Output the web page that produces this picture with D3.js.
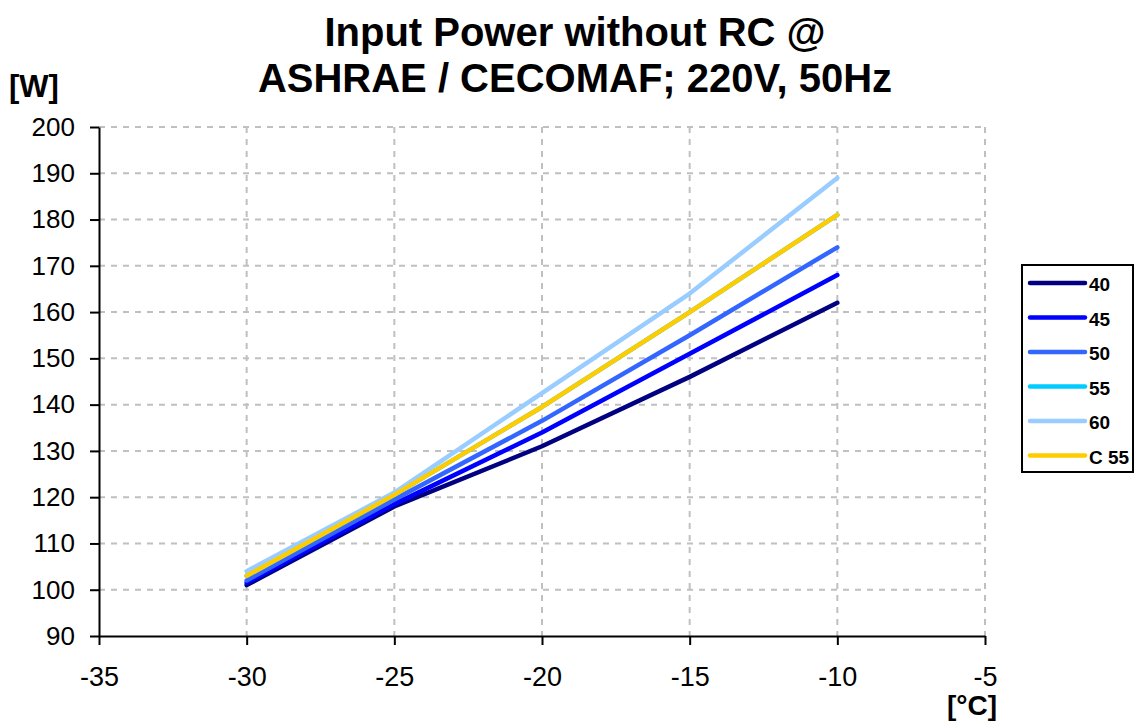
<!DOCTYPE html>
<html>
<head>
<meta charset="utf-8">
<script src="https://cdn.jsdelivr.net/npm/d3@7"></script>
<style>
  body { margin: 0; background: #fff; }
  text { font-family: Arial, "Liberation Sans", sans-serif; }
</style>
</head>
<body>
<div id="chart"></div>
<script>
var W = 1138, H = 724;
var margin = {top: 127, right: 153, bottom: 88, left: 99};
var width = W - margin.left - margin.right;
var height = H - margin.top - margin.bottom;

// evaporating temperature [°C]
var temps = [-30, -25, -20, -15, -10];
var seriesNames = ['40', '45', '50', '55', '60', 'C 55'];
var s40 = [101, 118, 131, 146, 162];
var s45 = [101.5, 118.5, 134, 151, 168];
var s50 = [102, 119.5, 136.5, 155, 174];
var s55 = [103, 120.5, 139.5, 160, 181];
var s60 = [104, 121, 142.5, 164, 189];
var sC55 = [103, 120.5, 139.5, 160, 181];
var colors = ['#000080', '#0000ff', '#3366ff', '#00ccff', '#99ccff', '#ffcc00'];
var xTicks = [-35, -30, -25, -20, -15, -10, -5];
var yTicks = [90, 100, 110, 120, 130, 140, 150, 160, 170, 180, 190, 200];

var allSeries = [s40, s45, s50, s55, s60, sC55];

var svg = d3.select('#chart').append('svg')
  .attr('width', W)
  .attr('height', H);

var g = svg.append('g')
  .attr('transform', 'translate(' + margin.left + ',' + margin.top + ')');

var x = d3.scaleLinear().domain([-35, -5]).range([0, width]);
var y = d3.scaleLinear().domain([90, 200]).range([height, 0]);

// grid
g.selectAll('.vgrid')
  .data(xTicks.slice(1))
  .enter().append('line')
  .attr('x1', function(d) { return x(d); })
  .attr('x2', function(d) { return x(d); })
  .attr('y1', 0).attr('y2', height)
  .attr('stroke', '#c0c0c0').attr('stroke-width', 2)
  .attr('stroke-dasharray', '6,6');

g.selectAll('.hgrid')
  .data(yTicks.slice(1))
  .enter().append('line')
  .attr('x1', 0).attr('x2', width)
  .attr('y1', function(d) { return y(d); })
  .attr('y2', function(d) { return y(d); })
  .attr('stroke', '#c0c0c0').attr('stroke-width', 2)
  .attr('stroke-dasharray', '6,6');

// axes (plain hyphen for negatives, like the original)
var fmt = function(d) { return String(d); };
var xAxis = g.append('g')
  .attr('transform', 'translate(0,' + height + ')')
  .call(d3.axisBottom(x).tickValues(xTicks).tickFormat(fmt).tickSize(9).tickPadding(22).tickSizeOuter(0));
var yAxis = g.append('g')
  .call(d3.axisLeft(y).tickValues(yTicks).tickFormat(fmt).tickSize(9).tickPadding(15).tickSizeOuter(0));

[xAxis, yAxis].forEach(function(a) {
  a.select('.domain').attr('stroke', '#000').attr('stroke-width', 2);
  a.selectAll('.tick line').attr('stroke', '#000').attr('stroke-width', 2);
  a.selectAll('.tick text')
    .attr('fill', '#000')
    .style('font-family', 'Arial, "Liberation Sans", sans-serif');
});
yAxis.selectAll('.tick text').style('font-size', '26px');
xAxis.selectAll('.tick text').style('font-size', '27px').attr('dy', '0.71em');

// lines
var line = d3.line()
  .x(function(d, i) { return x(temps[i]); })
  .y(function(d) { return y(d); });

g.selectAll('.series')
  .data(allSeries)
  .enter().append('path')
  .attr('d', line)
  .attr('fill', 'none')
  .attr('stroke', function(d, i) { return colors[i]; })
  .attr('stroke-width', 4.5)
  .attr('stroke-linecap', 'round')
  .attr('stroke-linejoin', 'round');

// titles
svg.append('text')
  .attr('x', 575).attr('y', 46)
  .attr('text-anchor', 'middle')
  .style('font-size', '40px').style('font-weight', 'bold')
  .text('Input Power without RC @');
svg.append('text')
  .attr('x', 575).attr('y', 92)
  .attr('text-anchor', 'middle')
  .style('font-size', '40px').style('font-weight', 'bold')
  .text('ASHRAE / CECOMAF; 220V, 50Hz');

svg.append('text')
  .attr('x', 9).attr('y', 97)
  .style('font-size', '31px').style('font-weight', 'bold')
  .text('[W]');
svg.append('text')
  .attr('x', 997).attr('y', 715)
  .attr('text-anchor', 'end')
  .style('font-size', '28px').style('font-weight', 'bold')
  .text('[°C]');

// legend
var legend = svg.append('g').attr('transform', 'translate(1022,265)');
legend.append('rect')
  .attr('width', 111).attr('height', 207)
  .attr('fill', '#fff').attr('stroke', '#000').attr('stroke-width', 2);

var item = legend.selectAll('.item')
  .data(seriesNames)
  .enter().append('g')
  .attr('transform', function(d, i) { return 'translate(0,' + (18 + i * 34.5) + ')'; });
item.append('line')
  .attr('x1', 8).attr('x2', 63)
  .attr('stroke', function(d, i) { return colors[i]; })
  .attr('stroke-width', 4.5)
  .attr('stroke-linecap', 'round');
item.append('text')
  .attr('x', 67).attr('y', 8)
  .style('font-size', '19px').style('font-weight', 'bold')
  .text(function(d) { return d; });
</script>
</body>
</html>
